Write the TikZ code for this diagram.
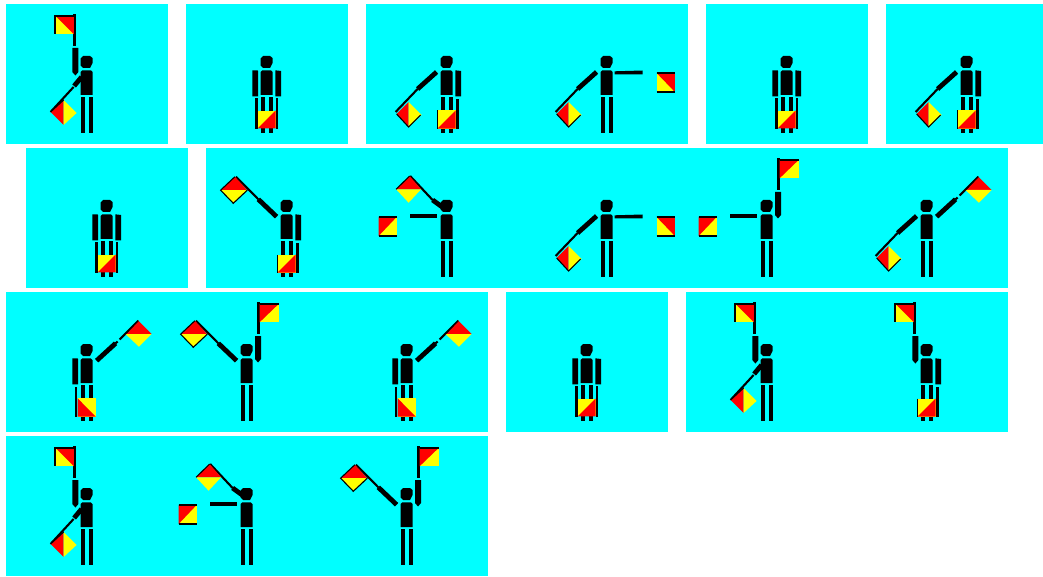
\documentclass[tikz,border=0pt]{standalone}
\definecolor{skyc}{RGB}{0,255,255}
\definecolor{flagr}{RGB}{255,0,0}
\definecolor{flagy}{RGB}{255,255,0}
\tikzset{
  panel/.style={fill=skyc,draw=none},
  staffline/.style={draw=black,line width=2.1pt,line cap=butt},
  armline/.style={draw=black,line width=4.8pt,line cap=butt},
  edgeline/.style={draw=black,line width=1.1pt},
  bodyfig/.pic={
    \fill[black] (-3.5,-6) -- (3.5,-6) -- (5.9,-4) -- (5.9,1) -- (3.5,6) -- (-3.5,6) -- (-5.9,3.5) -- (-5.9,-3.5) -- cycle;
    \fill[black] (-4.2,8.3) -- (4.2,8.3) -- (5.9,10) -- (5.9,33) -- (-5.9,33) -- (-5.9,10) -- cycle;
    \fill[black] (-5.9,35) rectangle (-2,71);
    \fill[black] (2,35) rectangle (5.9,71);
  },
  upleft/.pic={
    \fill[black] (-14.3,-14) -- (-8.2,-14) -- (-8.2,10) -- (-11.2,13.5) -- (-14.3,10) -- cycle;
    \fill[black] (-13.2,-48) rectangle (-10.6,-16);
    \fill[flagy] (-32.5,-46) rectangle (-12.8,-27.7);
    \fill[flagr] (-31,-46) -- (-12.8,-46) -- (-12.8,-27.7) -- cycle;
    \fill[black] (-32.5,-46) rectangle (-30.8,-27.7);
    \draw[edgeline] (-32.5,-46) -- (-12.8,-46);
  },
  upright/.pic={
    \fill[black] (8.4,-14) -- (14.4,-14) -- (14.4,9) -- (11.4,12.5) -- (8.4,9) -- cycle;
    \fill[black] (10.3,-48) rectangle (12.9,-16);
    \fill[flagy] (13,-46) rectangle (32,-27.7);
    \fill[flagr] (13,-46) -- (32,-46) -- (13,-27.7) -- cycle;
    \draw[edgeline] (13,-46) -- (32,-46);
  },
  horizright/.pic={
    \fill[black] (8,9.3) -- (36,8.5) -- (36,12.5) -- (8,12.5) -- cycle;
    \fill[flagy] (50,11) rectangle (68.3,30);
    \fill[flagr] (50,11) -- (68.3,11) -- (68.3,30) -- cycle;
    \draw[edgeline] (50,11) -- (68.3,11);
    \draw[edgeline] (50,30) -- (68.3,30);
  },
  horizleft/.pic={
    \fill[black] (-36.5,8.3) rectangle (-9.5,12.3);
    \fill[flagy] (-68,11) rectangle (-50,30);
    \fill[flagr] (-68,30) -- (-68,11) -- (-50,11) -- cycle;
    \draw[edgeline] (-68,11) -- (-50,11);
    \draw[edgeline] (-68,30) -- (-50,30);
  },
  swlong/.pic={
    \draw[armline] (-10,10) -- (-29,27);
    \draw[staffline] (-29,27) -- (-51,50);
    \fill[flagr] (-50,52) -- (-38,40) -- (-38,65) -- cycle;
    \fill[flagy] (-38,40) -- (-25,53) -- (-38,65) -- cycle;
    \draw[edgeline] (-50,52) -- (-38,65) -- (-26,53);
  },
  swshort/.pic={
    \draw[armline] (-5,15) -- (-12.5,24);
    \draw[staffline] (-13,25) -- (-36,50);
    \fill[flagr] (-36,50) -- (-23,38) -- (-23,63) -- cycle;
    \fill[flagy] (-23,38) -- (-10,51) -- (-23,63) -- cycle;
    \draw[edgeline] (-36,50) -- (-23,38);
  },
  nwlong/.pic={
    \draw[armline] (-10,10.7) -- (-28.3,-6.7);
    \draw[staffline] (-28.3,-6.7) -- (-50.7,-29.3);
    \fill[flagr] (-66,-15.8) -- (-51.7,-29.3) -- (-39.3,-15.8) -- cycle;
    \fill[flagy] (-66,-15.8) -- (-39.3,-15.8) -- (-53.3,-2.7) -- cycle;
    \draw[edgeline] (-51.7,-29.3) -- (-66,-15.8) -- (-53.3,-2.7) -- (-39.3,-15.8);
  },
  nwover/.pic={
    \draw[armline] (-3,2) -- (-14,-6);
    \draw[staffline] (-14,-6) -- (-36.5,-30);
    \fill[flagr] (-50.5,-16.7) -- (-37,-30) -- (-25.5,-16.7) -- cycle;
    \fill[flagy] (-50.5,-16.7) -- (-25.5,-16.7) -- (-38,-3.3) -- cycle;
    \draw[edgeline] (-50.5,-16.7) -- (-37,-30);
  },
  ne/.pic={
    \draw[armline] (10,10.7) -- (29,-6.7);
    \draw[staffline] (29,-6.7) -- (31,-8.5);
    \draw[staffline] (33,-10.5) -- (51.7,-29.3);
    \fill[flagr] (39,-16) -- (51.7,-29.3) -- (65,-16) -- cycle;
    \fill[flagy] (39,-16) -- (65,-16) -- (52.3,-3.3) -- cycle;
    \draw[edgeline] (39,-16) -- (51.7,-29.3);
  },
  restleft/.pic={
    \fill[black] (-14.2,8.3) -- (-9,8.3) -- (-8.5,9) -- (-8.5,34.3) -- (-14.2,34.3) -- cycle;
    \fill[black] (-11.7,36.7) rectangle (-9.2,67);
    \fill[flagy] (-9,48.3) rectangle (9.2,66.7);
    \fill[flagr] (-9,48.3) -- (9.2,66.7) -- (-9,66.7) -- cycle;
  },
  restright/.pic={
    \fill[black] (8.7,8.3) -- (14.5,9) -- (14.5,34.3) -- (8.7,34.3) -- cycle;
    \fill[black] (9.6,36.7) rectangle (12.2,67);
    \fill[flagy] (-9.3,48.5) rectangle (9,66.7);
    \fill[flagr] (-9.3,66.7) -- (9,48.5) -- (9,66.7) -- cycle;
    \draw[edgeline] (-9.3,48.5) -- (-9.3,66.7);
  },
  restboth/.pic={
    \fill[black] (-14.2,8.3) -- (-9,8.3) -- (-8.5,9) -- (-8.5,34.3) -- (-14.2,34.3) -- cycle;
    \fill[black] (8.7,8.3) -- (14.5,9) -- (14.5,34.3) -- (8.7,34.3) -- cycle;
    \fill[black] (-11.2,36) rectangle (-8.7,67);
    \fill[black] (8.9,36) rectangle (11.4,67);
    \fill[flagy] (-8.7,48.7) rectangle (8.9,66.3);
    \fill[flagr] (-8.7,66.3) -- (8.9,48.7) -- (8.9,66.3) -- cycle;
  },
}
\newcommand{\semfig}[3]{%
  \pic at (#1+.6,#2) {bodyfig};
  \foreach \partname in {#3} {\pic at (#1+.6,#2) {\partname};}
}
\begin{document}
\begin{tikzpicture}[x=1pt,y=-1pt]
\useasboundingbox (0,0) rectangle (1043,577);
% panels
\fill[panel] (6,4) rectangle (168,144);
\fill[panel] (186,4) rectangle (348,144);
\fill[panel] (366,4) rectangle (688,144);
\fill[panel] (706,4) rectangle (868,144);
\fill[panel] (886,4) rectangle (1043,144);
\fill[panel] (26,148) rectangle (188,288);
\fill[panel] (206,148) rectangle (1008,288);
\fill[panel] (6,292) rectangle (488,432);
\fill[panel] (506,292) rectangle (668,432);
\fill[panel] (686,292) rectangle (1008,432);
\fill[panel] (6,436) rectangle (488,576);
% row 1
\semfig{86}{62}{upleft,swshort}
\semfig{266}{62}{restboth}
\semfig{446}{62}{swlong,restright}
\semfig{606}{62}{swlong,horizright}
\semfig{786}{62}{restboth}
\semfig{966}{62}{swlong,restright}
% row 2
\semfig{106}{206}{restboth}
\semfig{286}{206}{nwlong,restright}
\semfig{446}{206}{nwover,horizleft}
\semfig{606}{206}{swlong,horizright}
\semfig{766}{206}{horizleft,upright}
\semfig{926}{206}{swlong,ne}
% row 3
\semfig{86}{350}{ne,restleft}
\semfig{246}{350}{nwlong,upright}
\semfig{406}{350}{ne,restleft}
\semfig{586}{350}{restboth}
\semfig{766}{350}{upleft,swshort}
\semfig{926}{350}{upleft,restright}
% row 4
\semfig{86}{494}{upleft,swshort}
\semfig{246}{494}{nwover,horizleft}
\semfig{406}{494}{nwlong,upright}
\end{tikzpicture}
\end{document}
